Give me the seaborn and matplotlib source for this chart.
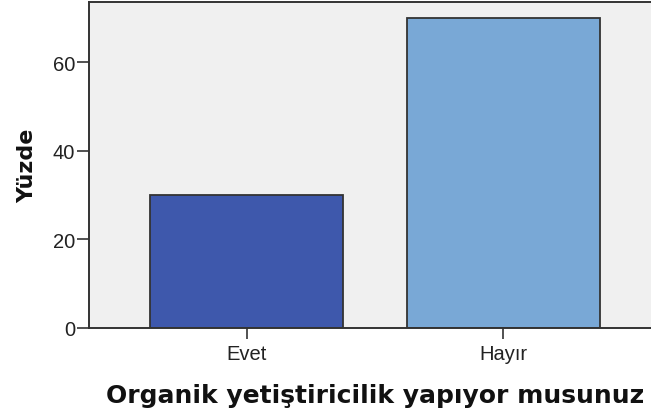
import pandas as pd
import matplotlib
matplotlib.use("Agg")
import matplotlib.pyplot as plt
import seaborn as sns

# Data
categories = ["Evet", "Hayır"]
percent = [30.0, 70.0]
bar_colors = ["#3E58AC", "#79A8D6"]

df = pd.DataFrame({"Cevap": categories, "Yuzde": percent})

sns.set_style("white")
plt.rcParams["font.family"] = ["Liberation Sans", "DejaVu Sans"]

fig = plt.figure(figsize=(6.51, 4.14), dpi=100)
W, H = 651, 414
# axes extends past the right edge, like the cropped original
ax = fig.add_axes([89 / W, 85.5 / H, 571.8 / W, 325.5 / H])
ax.set_facecolor("#F0F0F0")

sns.barplot(
    data=df, x="Cevap", y="Yuzde", hue="Cevap",
    palette=bar_colors, width=0.752, edgecolor="#333333",
    linewidth=1.3, legend=False, ax=ax, saturation=1,
)

ax.set_xlim(-0.615, 1.615)
ax.set_ylim(0, 73.6)
ax.set_yticks([0, 20, 40, 60])

for side in ["left", "bottom", "top", "right"]:
    ax.spines[side].set_color("#333333")
    ax.spines[side].set_linewidth(1.4)

ax.tick_params(axis="y", length=9, width=1.2, color="#333333", pad=1,
               labelsize=14.5, labelcolor="#222222", left=True)
ax.tick_params(axis="x", length=8, width=1.2, color="#333333", pad=4,
               labelsize=14.5, labelcolor="#222222", bottom=True)

ax.set_xlabel("Organik yetiştiricilik yapıyor musunuz", fontsize=18,
              fontweight="bold", family="DejaVu Sans", labelpad=14,
              color="#111111")
ax.set_ylabel("Yüzde", fontsize=16, fontweight="bold", family="DejaVu Sans",
              labelpad=11, color="#111111")

fig.savefig("out.png", dpi=100)
